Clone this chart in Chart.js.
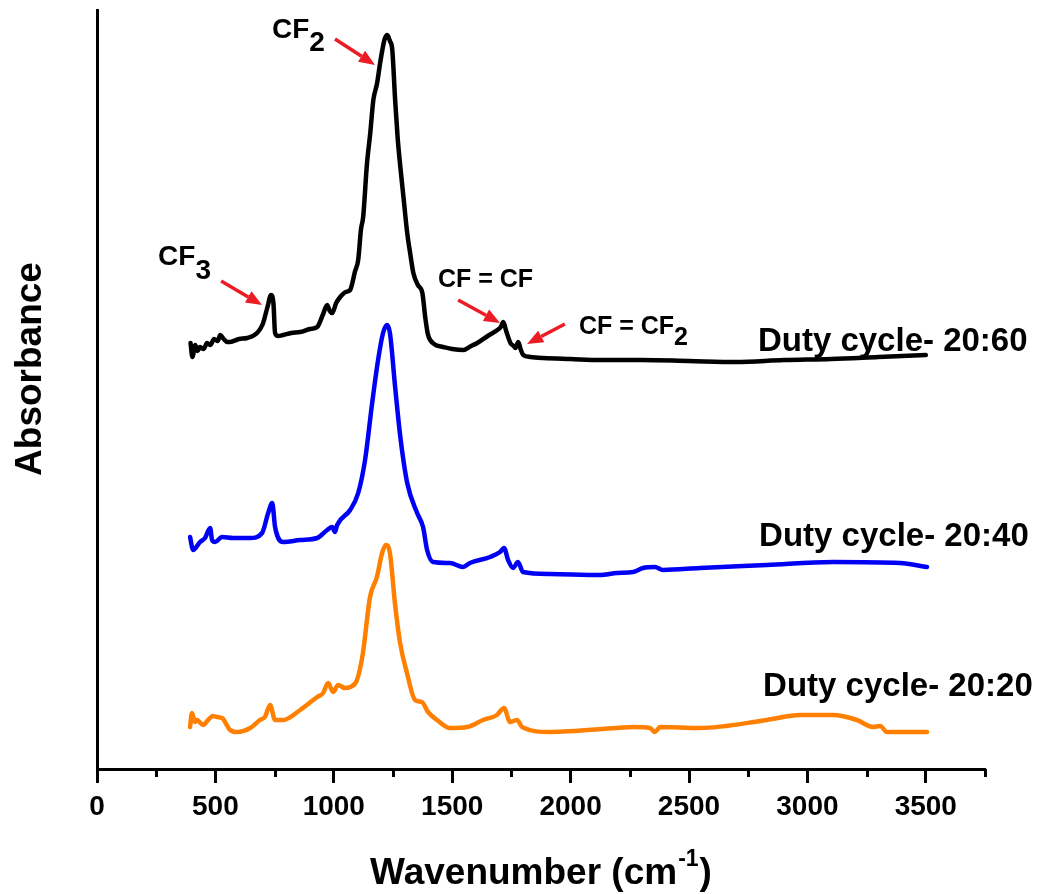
<!DOCTYPE html>
<html>
<head>
<meta charset="utf-8">
<title>FTIR spectra - duty cycle</title>
<script src="https://cdn.jsdelivr.net/npm/chart.js@4.4.1/dist/chart.umd.min.js"></script>
<style>
  html, body { margin: 0; padding: 0; background: #fff; }
  canvas { display: block; }
</style>
</head>
<body>
<canvas id="spectra" width="1037" height="894"></canvas>
<script>
// wavenumber (cm-1) and absorbance (a.u., traces stacked with an offset)
const wn2060 = [395, 403, 415, 425, 435, 450, 465, 478, 495, 510, 520, 535, 550, 562, 600, 634, 676, 700, 720, 735,
    745, 752, 765, 786, 820, 858, 900, 930, 955, 972, 983, 993, 1010, 1027, 1050, 1069, 1090, 1103, 1115, 1124,
    1140, 1154, 1167, 1183, 1195, 1205, 1215, 1226, 1237, 1247, 1259, 1270, 1281, 1295, 1310, 1323, 1336, 1355, 1374, 1386,
    1397, 1407, 1430, 1462, 1500, 1547, 1580, 1606, 1650, 1691, 1705, 1716, 1728, 1746, 1760, 1767, 1779, 1790, 1800, 1830,
    1885, 2000, 2126, 2300, 2500, 2700, 2900, 3100, 3300, 3500];
const abs2060 = [4.26, 4.12, 4.24, 4.18, 4.22, 4.20, 4.26, 4.24, 4.30, 4.28, 4.34, 4.30, 4.27, 4.27, 4.30, 4.31, 4.36, 4.45, 4.62, 4.74,
    4.66, 4.36, 4.33, 4.34, 4.36, 4.37, 4.40, 4.42, 4.55, 4.64, 4.58, 4.56, 4.66, 4.72, 4.77, 4.79, 4.98, 5.09, 5.40, 5.52,
    6.05, 6.36, 6.69, 6.86, 7.05, 7.19, 7.30, 7.34, 7.28, 7.19, 6.69, 6.30, 6.02, 5.70, 5.36, 5.15, 4.96, 4.84, 4.76, 4.52,
    4.35, 4.29, 4.24, 4.22, 4.20, 4.19, 4.23, 4.26, 4.33, 4.39, 4.42, 4.47, 4.38, 4.26, 4.23, 4.21, 4.27, 4.19, 4.14, 4.12,
    4.11, 4.10, 4.09, 4.09, 4.08, 4.07, 4.09, 4.10, 4.12, 4.14];

const wn2040 = [393, 406, 435, 456, 478, 486, 499, 528, 575, 647, 697, 723, 740, 752, 786, 858, 930, 972, 993, 1005,
    1014, 1069, 1103, 1132, 1162, 1187, 1208, 1225, 1237, 1259, 1281, 1310, 1352, 1377, 1394, 1419, 1491, 1546, 1575, 1660,
    1702, 1719, 1736, 1757, 1778, 1799, 1913, 2124, 2196, 2264, 2306, 2356, 2390, 2546, 2829, 3108, 3391, 3505];
const abs2040 = [2.32, 2.19, 2.27, 2.31, 2.41, 2.29, 2.27, 2.32, 2.31, 2.31, 2.36, 2.56, 2.66, 2.42, 2.27, 2.29, 2.31, 2.39, 2.42, 2.37,
    2.44, 2.59, 2.76, 3.09, 3.66, 4.09, 4.36, 4.44, 4.36, 3.82, 3.32, 2.86, 2.56, 2.42, 2.19, 2.07, 2.06, 2.02, 2.06, 2.12,
    2.17, 2.21, 2.09, 2.01, 2.07, 1.97, 1.95, 1.94, 1.96, 1.97, 2.01, 2.02, 1.99, 2.01, 2.04, 2.07, 2.06, 2.02];

const wn2020 = [393, 401, 414, 422, 448, 469, 490, 507, 528, 562, 591, 647, 688, 709, 731, 752, 786, 858, 930, 955,
    976, 997, 1018, 1047, 1069, 1098, 1123, 1153, 1182, 1204, 1220, 1237, 1258, 1280, 1309, 1343, 1372, 1398, 1436, 1491,
    1563, 1630, 1689, 1719, 1744, 1774, 1795, 1913, 2196, 2264, 2335, 2356, 2378, 2546, 2829, 2969, 3108, 3209, 3277, 3307,
    3336, 3505];
const abs2020 = [0.42, 0.56, 0.47, 0.49, 0.44, 0.49, 0.53, 0.52, 0.51, 0.39, 0.37, 0.41, 0.49, 0.52, 0.64, 0.49, 0.49, 0.59, 0.72, 0.76,
    0.86, 0.77, 0.84, 0.81, 0.82, 0.89, 1.16, 1.72, 1.92, 2.16, 2.24, 2.16, 1.66, 1.26, 0.96, 0.69, 0.67, 0.57, 0.49, 0.41,
    0.42, 0.49, 0.54, 0.61, 0.47, 0.49, 0.42, 0.37, 0.41, 0.42, 0.41, 0.37, 0.42, 0.41, 0.49, 0.54, 0.54, 0.49, 0.42, 0.43,
    0.37, 0.37];

const seriesNames = ['Duty cycle- 20:60', 'Duty cycle- 20:40', 'Duty cycle- 20:20'];
const majorTicks = [0, 500, 1000, 1500, 2000, 2500, 3000, 3500];
const minorTicks = [250, 750, 1250, 1750, 2250, 2750, 3250, 3750];

const FONT = '"Liberation Sans", Arial, Helvetica, sans-serif';

// peak assignments: text anchored at its left/middle, arrow from -> to (data units)
const peakNotes = [
    {text: 'CF', sub: '2', size: 28, drop: 13, at: [739, 7.39], from: [1005, 7.30], to: [1174, 7.04]},
    {text: 'CF', sub: '3', size: 28, drop: 14, at: [258, 5.12], from: [524, 4.88], to: [697, 4.64]},
    {text: 'CF = CF', sub: '', size: 25, drop: 0, at: [1440, 4.89], from: [1525, 4.69], to: [1702, 4.46]},
    {text: 'CF = CF', sub: '2', size: 25, drop: 11, at: [2035, 4.42], from: [1976, 4.45], to: [1816, 4.25]}
];
const tracePos = [[2791, 4.27], [2796, 2.32], [2813, 0.82]];

const toPoints = (xs, ys) => xs.map((x, i) => ({x, y: ys[i]}));

function drawArrow(ctx, x1, y1, x2, y2) {
    const ang = Math.atan2(y2 - y1, x2 - x1);
    const head = 16, half = 6.5;
    const bx = x2 - head * Math.cos(ang), by = y2 - head * Math.sin(ang);
    ctx.strokeStyle = ctx.fillStyle = '#ec1c24';
    ctx.lineWidth = 3.5;
    ctx.beginPath();
    ctx.moveTo(x1, y1);
    ctx.lineTo(bx, by);
    ctx.stroke();
    ctx.beginPath();
    ctx.moveTo(x2, y2);
    ctx.lineTo(bx + half * Math.sin(ang), by - half * Math.cos(ang));
    ctx.lineTo(bx - half * Math.sin(ang), by + half * Math.cos(ang));
    ctx.closePath();
    ctx.fill();
}

const decorations = {
    id: 'decorations',
    afterDraw(chart) {
        const {ctx, chartArea} = chart;
        const xs = chart.scales.x, ys = chart.scales.y;
        ctx.save();

        // minor ticks on the wavenumber axis
        ctx.strokeStyle = '#000';
        ctx.lineWidth = 3;
        minorTicks.forEach(v => {
            const px = Math.round(xs.getPixelForValue(v)) + 0.5;
            ctx.beginPath();
            ctx.moveTo(px, chartArea.bottom);
            ctx.lineTo(px, chartArea.bottom + 8);
            ctx.stroke();
        });

        // peak labels and arrows
        ctx.textBaseline = 'middle';
        ctx.textAlign = 'left';
        peakNotes.forEach(n => {
            ctx.fillStyle = '#000';
            ctx.font = `bold ${n.size}px ${FONT}`;
            const px = xs.getPixelForValue(n.at[0]), py = ys.getPixelForValue(n.at[1]);
            ctx.fillText(n.text, px, py);
            if (n.sub) {
                ctx.fillText(n.sub, px + ctx.measureText(n.text).width, py + n.drop);
            }
            drawArrow(ctx,
                xs.getPixelForValue(n.from[0]), ys.getPixelForValue(n.from[1]),
                xs.getPixelForValue(n.to[0]), ys.getPixelForValue(n.to[1]));
        });

        // trace names
        ctx.fillStyle = '#000';
        ctx.font = `bold 33px ${FONT}`;
        seriesNames.forEach((name, i) => {
            ctx.fillText(name, xs.getPixelForValue(tracePos[i][0]), ys.getPixelForValue(tracePos[i][1]));
        });

        // axis titles
        const titleFont = `bold 37px ${FONT}`;
        const supFont = `bold 23px ${FONT}`;
        const head = 'Wavenumber (cm', tail = ')';
        ctx.font = titleFont;
        const wHead = ctx.measureText(head).width, wTail = ctx.measureText(tail).width;
        ctx.font = supFont;
        const wSup = ctx.measureText('-1').width;
        let tx = (chartArea.left + chartArea.right) / 2 - (wHead + wSup + 2 + wTail) / 2;
        const ty = 874;
        ctx.font = titleFont;
        ctx.fillText(head, tx, ty);
        tx += wHead + 1;
        ctx.font = supFont;
        ctx.fillText('-1', tx, ty - 14);
        tx += wSup + 1;
        ctx.font = titleFont;
        ctx.fillText(tail, tx, ty);

        ctx.translate(31, 369);
        ctx.rotate(-Math.PI / 2);
        ctx.textAlign = 'center';
        ctx.fillText('Absorbance', 0, 0);
        ctx.restore();
    }
};

const lineStyle = color => ({
    borderColor: color,
    borderWidth: 4.5,
    pointRadius: 0,
    cubicInterpolationMode: 'monotone',
    borderJoinStyle: 'round',
    borderCapStyle: 'round',
    fill: false
});

new Chart(document.getElementById('spectra'), {
    type: 'line',
    data: {
        datasets: [
            {label: seriesNames[2], data: toPoints(wn2020, abs2020), ...lineStyle('#ff8000')},
            {label: seriesNames[1], data: toPoints(wn2040, abs2040), ...lineStyle('#0000f5')},
            {label: seriesNames[0], data: toPoints(wn2060, abs2060), ...lineStyle('#000000')}
        ]
    },
    options: {
        responsive: false,
        animation: false,
        layout: {padding: {top: 10, right: 52, left: 0, bottom: 0}},
        plugins: {legend: {display: false}, tooltip: {enabled: false}},
        scales: {
            x: {
                type: 'linear',
                min: 0,
                max: 3750,
                afterFit: scale => { scale.height = 125; },
                afterBuildTicks: scale => { scale.ticks = majorTicks.map(value => ({value})); },
                border: {color: '#000', width: 3},
                grid: {drawOnChartArea: false, tickLength: 14, tickWidth: 3, tickColor: '#000'},
                ticks: {
                    autoSkip: false,
                    maxRotation: 0,
                    padding: 7,
                    color: '#000',
                    font: {family: FONT, size: 28, weight: 'bold'},
                    callback: value => String(value)
                }
            },
            y: {
                min: 0,
                max: 7.59,
                afterFit: scale => { scale.width = 97; },
                border: {color: '#000', width: 3},
                grid: {display: false, drawTicks: false},
                ticks: {display: false}
            }
        }
    },
    plugins: [decorations]
});
</script>
</body>
</html>
